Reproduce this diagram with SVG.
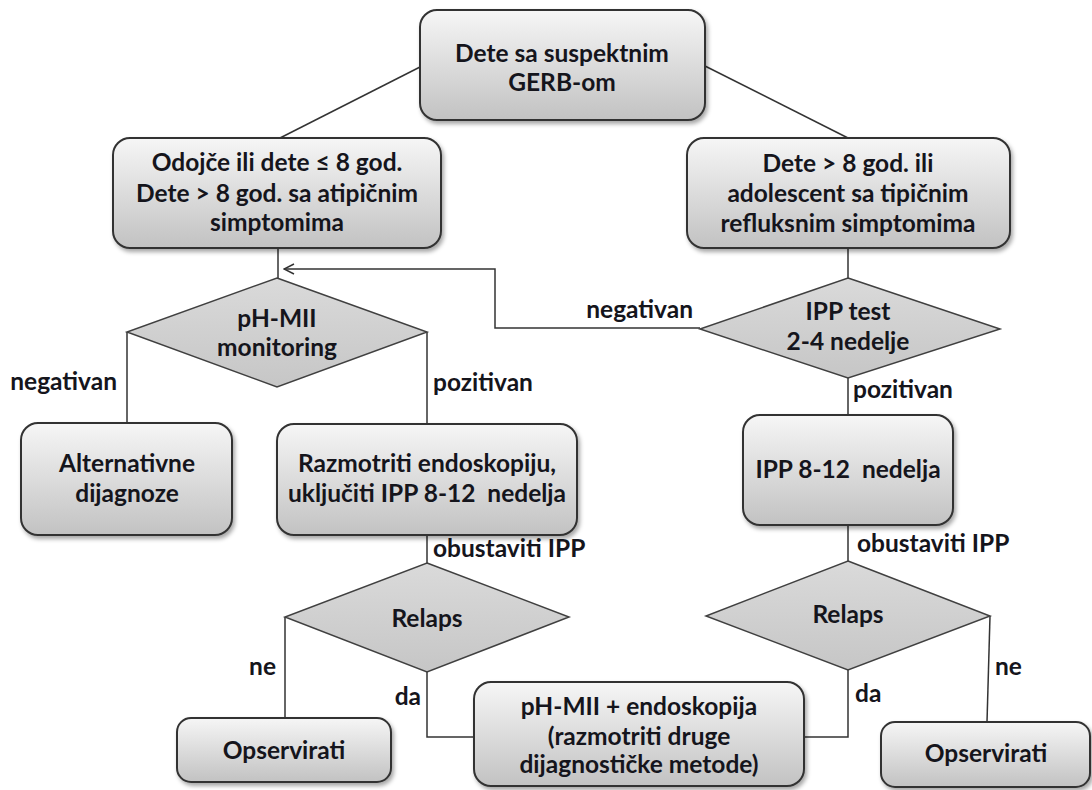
<svg xmlns="http://www.w3.org/2000/svg" width="1092" height="790" viewBox="0 0 1092 790">
<defs>
<linearGradient id="gBox" x1="0" y1="0" x2="0" y2="1">
<stop offset="0" stop-color="#f6f6f6"/>
<stop offset="1" stop-color="#c2c2c2"/>
</linearGradient>
<linearGradient id="gDia" x1="0" y1="0" x2="0" y2="1">
<stop offset="0" stop-color="#dadada"/>
<stop offset="1" stop-color="#c6c6c6"/>
</linearGradient>
<filter id="sh" x="-10%" y="-10%" width="120%" height="130%">
<feDropShadow dx="2" dy="3" stdDeviation="2" flood-color="#000" flood-opacity="0.35"/>
</filter>
<marker id="arr" viewBox="0 0 12 12" refX="11" refY="6" markerWidth="12" markerHeight="12" markerUnits="userSpaceOnUse" orient="auto">
<path d="M1,1 L11,6 L1,11" fill="none" stroke="#333" stroke-width="1.5"/>
</marker>
</defs>
<style>
.box{fill:url(#gBox);stroke:#333;stroke-width:2;filter:url(#sh)}
.dia{fill:url(#gDia);stroke:#404040;stroke-width:1.5}
.t{font-family:Lato,"Open Sans","Liberation Sans",sans-serif;font-weight:700;font-size:24.5px;fill:#15151c}
.c{text-anchor:middle}
.e{text-anchor:end}
.ln{fill:none;stroke:#333;stroke-width:1.5}
</style>
<rect width="1092" height="790" fill="#fff"/>
<g id="connectors">
<path class="ln" d="M420,67 L280,138"/>
<path class="ln" d="M705,66 L848,138"/>
<path class="ln" d="M278,248 L278,278"/>
<path class="ln" d="M848,248 L848,278"/>
<path class="ln" d="M700,328 L495,328 L495,269 L284,269" marker-end="url(#arr)"/>
<path class="ln" d="M127,332 L127,423"/>
<path class="ln" d="M427,332 L427,424"/>
<path class="ln" d="M848,378 L848,415"/>
<path class="ln" d="M427,535 L427,563"/>
<path class="ln" d="M848,525 L848,561"/>
<path class="ln" d="M285,617 L285,718"/>
<path class="ln" d="M427,672 L427,737 L474,737"/>
<path class="ln" d="M848,670 L848,737 L804,737"/>
<path class="ln" d="M990,616 L987,722"/>
<text class="t e" x="117" y="390">negativan</text>
<text class="t" x="433" y="391">pozitivan</text>
<text class="t e" x="693" y="318">negativan</text>
<text class="t" x="853" y="398">pozitivan</text>
<text class="t" x="433" y="557">obustaviti IPP</text>
<text class="t" x="857" y="552">obustaviti IPP</text>
<text class="t e" x="276" y="675">ne</text>
<text class="t e" x="421" y="705">da</text>
<text class="t" x="855" y="702">da</text>
<text class="t" x="995" y="675">ne</text>
</g>
<g id="start">
<rect class="box" x="420" y="10" width="285" height="110" rx="17"/>
<text class="t c" x="562" y="62">Dete sa suspektnim</text>
<text class="t c" x="562" y="91">GERB-om</text>
</g>
<g id="young">
<rect class="box" x="113" y="138" width="328" height="110" rx="17"/>
<text class="t c" x="277" y="171">Odojče ili dete ≤ 8 god.</text>
<text class="t c" x="277" y="202">Dete &gt; 8 god. sa atipičnim</text>
<text class="t c" x="277" y="231">simptomima</text>
</g>
<g id="older">
<rect class="box" x="687" y="138" width="323" height="110" rx="17"/>
<text class="t c" x="848" y="172">Dete &gt; 8 god. ili</text>
<text class="t c" x="848" y="202">adolescent sa tipičnim</text>
<text class="t c" x="848" y="232">refluksnim simptomima</text>
</g>
<g id="phmii-dec">
<polygon class="dia" points="277,278 427,332 277,387 127,332"/>
<text class="t c" x="277" y="327">pH-MII</text>
<text class="t c" x="277" y="356">monitoring</text>
</g>
<g id="ipp-test">
<polygon class="dia" points="848,278 1000,329 848,378 700,329"/>
<text class="t c" x="848" y="320">IPP test</text>
<text class="t c" x="848" y="350">2-4 nedelje</text>
</g>
<g id="alt">
<rect class="box" x="21" y="423" width="211" height="112" rx="17"/>
<text class="t c" x="127" y="472">Alternativne</text>
<text class="t c" x="127" y="502">dijagnoze</text>
</g>
<g id="razm">
<rect class="box" x="277" y="424" width="300" height="111" rx="17"/>
<text class="t c" x="427" y="472">Razmotriti endoskopiju,</text>
<text class="t c" x="427" y="502" xml:space="preserve">uključiti IPP 8-12  nedelja</text>
</g>
<g id="ipp812">
<rect class="box" x="743" y="415" width="210" height="110" rx="17"/>
<text class="t c" x="848" y="478" xml:space="preserve">IPP 8-12  nedelja</text>
</g>
<g id="relaps-l">
<polygon class="dia" points="427,563 569,617 427,672 285,617"/>
<text class="t c" x="427" y="627">Relaps</text>
</g>
<g id="relaps-r">
<polygon class="dia" points="848,561 990,616 848,670 706,616"/>
<text class="t c" x="848" y="623">Relaps</text>
</g>
<g id="obs-l">
<rect class="box" x="177" y="718" width="214" height="64" rx="14"/>
<text class="t c" x="284" y="759">Opservirati</text>
</g>
<g id="phmii-endo">
<rect class="box" x="474" y="682" width="330" height="104" rx="17"/>
<text class="t c" x="639" y="715">pH-MII + endoskopija</text>
<text class="t c" x="639" y="745">(razmotriti druge</text>
<text class="t c" x="639" y="773">dijagnostičke metode)</text>
</g>
<g id="obs-r">
<rect class="box" x="881" y="722" width="209" height="65" rx="14"/>
<text class="t c" x="986" y="762">Opservirati</text>
</g>
</svg>
